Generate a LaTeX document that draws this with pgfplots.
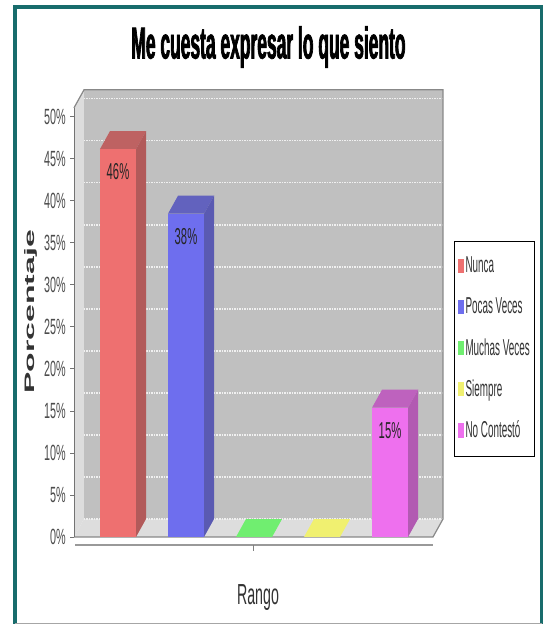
\documentclass[border=0pt]{standalone}
\usepackage{fontspec}
\usepackage{graphicx}
\usepackage{pgfplots}
\pgfplotsset{compat=1.18}
\setmainfont{Liberation Sans}[FakeStretch=0.49]
\newfontfamily\titlefont{Liberation Sans}[FakeStretch=0.39, FakeBold=1.5]
\newfontfamily\legfont{Liberation Sans}[FakeStretch=0.43]
\newfontfamily\plainfont{Liberation Sans}

\definecolor{frame}{RGB}{24,108,108}
\definecolor{wall}{RGB}{192,192,192}
\definecolor{floorc}{RGB}{221,221,221}
\definecolor{edge}{RGB}{136,136,136}
\definecolor{redF}{RGB}{238,112,112}
\definecolor{redT}{RGB}{190,98,98}
\definecolor{redS}{RGB}{178,90,90}
\definecolor{blueF}{RGB}{110,110,238}
\definecolor{blueT}{RGB}{98,98,190}
\definecolor{blueS}{RGB}{90,90,178}
\definecolor{greenF}{RGB}{112,238,112}
\definecolor{yellowF}{RGB}{240,240,112}
\definecolor{pinkF}{RGB}{238,112,238}
\definecolor{pinkT}{RGB}{190,98,190}
\definecolor{pinkS}{RGB}{178,90,178}

\pgfplotsset{
  swatch/.style={legend image code/.code={\fill[##1] (0pt,-6pt) rectangle (6pt,8pt);}},
  front/.style={ybar, bar width=36pt, bar shift=0pt, draw=none, swatch},
  lbl/.style={nodes near coords={\pgfmathprintnumber[fixed,precision=0,assume math mode=true]{\pgfplotspointmeta}\%},
    every node near coord/.append style={font=\fontsize{23}{23}\selectfont, text=black!85, inner sep=0pt, yshift=-31pt}},
}

\begin{document}
\begin{tikzpicture}
\useasboundingbox (0pt,0pt) rectangle (543pt,626pt);
\fill[white] (0pt,0pt) rectangle (543pt,626pt);
\draw[frame, line width=4pt] (15pt,2pt) -- (15pt,618.5pt) -- (541.5pt,618.5pt) -- (541.5pt,2pt);
\draw[black!35, line width=1pt] (15pt,2pt) -- (541.5pt,2pt);

\begin{axis}[
  at={(74pt,68pt)}, anchor=south west,
  scale only axis, width=369pt, height=469pt,
  xmin=0.353, xmax=5.779, ymin=-2.5, ymax=53.3,
  clip=false, no markers,
  axis line style={draw=none},
  xtick=\empty,
  ytick={0,5,...,50},
  yticklabels={0\%,5\%,10\%,15\%,20\%,25\%,30\%,35\%,40\%,45\%,50\%},
  ytick pos=left, tick align=outside, major tick length=4pt,
  tick style={draw=black!55, line width=0.8pt},
  yticklabel style={font=\fontsize{22}{22}\selectfont, text=black!70, inner sep=0pt, xshift=-4pt},
  title={\titlefont\bfseries\fontsize{44.7}{44.7}\selectfont Me cuesta expresar lo que siento},
  title style={at={(axis description cs:0.527,1.0768)}, anchor=center, inner sep=0pt},
  xlabel={\fontsize{29}{29}\selectfont Rango},
  xlabel style={at={(axis description cs:0.4986,-0.0853)}, anchor=center, inner sep=0pt, text=black!80},
  ylabel={\scalebox{1}[0.43]{\plainfont\bfseries\fontsize{32}{32}\selectfont Porcentaje}},
  ylabel style={at={(axis description cs:-0.1165,0.5245)}, anchor=center, inner sep=0pt, text=black!80},
  legend style={at={(axis description cs:1,0.6759)}, anchor=north west, xshift=11pt,
    draw=black, line width=1pt, fill=white, inner xsep=3pt, inner ysep=12pt, row sep=15.25pt,
    font=\legfont\fontsize{23}{23}\selectfont, text=black!80,
    nodes={inner sep=2pt, text height=17pt, text depth=5pt}, cells={anchor=west}},
  legend cell align=left,
]
% walls and floor
\addplot[fill=wall, draw=none, forget plot] coordinates {(0.5,2.14) (5.779,2.14) (5.779,53.2) (0.5,53.2)};
\addplot[fill=floorc, draw=none, forget plot] coordinates {(0.353,0) (0.5,2.14) (0.5,53.2) (0.353,51.06)};
\addplot[fill=floorc, draw=none, forget plot] coordinates {(0.353,0) (0.5,2.14) (5.779,2.14) (5.632,0)};
% grid on the back wall
\addplot[white!88!gray, line width=1.4pt, dash pattern=on 1.5pt off 1pt, unbounded coords=jump, forget plot] coordinates {
  (0.5,2.14) (5.779,2.14) (0.5,nan)
  (0.5,7.14) (5.779,7.14) (0.5,nan)
  (0.5,12.14) (5.779,12.14) (0.5,nan)
  (0.5,17.14) (5.779,17.14) (0.5,nan)
  (0.5,22.14) (5.779,22.14) (0.5,nan)
  (0.5,27.14) (5.779,27.14) (0.5,nan)
  (0.5,32.14) (5.779,32.14) (0.5,nan)
  (0.5,37.14) (5.779,37.14) (0.5,nan)
  (0.5,42.14) (5.779,42.14) (0.5,nan)
  (0.5,47.14) (5.779,47.14) (0.5,nan)
  (0.5,52.14) (5.779,52.14)
};
% outline
\addplot[edge, line width=1.2pt, forget plot] coordinates {(0.353,51.06) (0.5,53.2) (5.779,53.2) (5.779,2.14) (5.632,0) (0.353,0)};
\addplot[black!55, line width=1pt, forget plot] coordinates {(0.353,0) (0.353,51.06)};
\addplot[black!40, line width=2pt, forget plot] coordinates {(0.368,-0.95) (5.632,-0.95)};
\addplot[black!50, line width=0.8pt, forget plot] coordinates {(2.985,-0.95) (2.985,-1.7)};

% 3D tops and sides
\addplot[fill=redT, draw=none, forget plot] coordinates {(0.735,46.15) (0.882,48.29) (1.412,48.29) (1.265,46.15)};
\addplot[fill=redS, draw=none, forget plot] coordinates {(1.265,46.15) (1.412,48.29) (1.412,2.14) (1.265,0)};
\addplot[fill=blueT, draw=none, forget plot] coordinates {(1.735,38.46) (1.882,40.60) (2.412,40.60) (2.265,38.46)};
\addplot[fill=blueS, draw=none, forget plot] coordinates {(2.265,38.46) (2.412,40.60) (2.412,2.14) (2.265,0)};
\addplot[fill=greenF, draw=none, forget plot] coordinates {(2.735,0) (3.265,0) (3.412,2.14) (2.882,2.14)};
\addplot[fill=yellowF, draw=none, forget plot] coordinates {(3.735,0) (4.265,0) (4.412,2.14) (3.882,2.14)};
\addplot[fill=pinkT, draw=none, forget plot] coordinates {(4.735,15.38) (4.882,17.52) (5.412,17.52) (5.265,15.38)};
\addplot[fill=pinkS, draw=none, forget plot] coordinates {(5.265,15.38) (5.412,17.52) (5.412,2.14) (5.265,0)};

% front faces
\addplot[front, fill=redF, lbl] coordinates {(1,46.15)};
\addlegendentry{Nunca}
\addplot[front, fill=blueF, lbl] coordinates {(2,38.46)};
\addlegendentry{Pocas Veces}
\addplot[front, fill=greenF] coordinates {(3,0)};
\addlegendentry{Muchas Veces}
\addplot[front, fill=yellowF] coordinates {(4,0)};
\addlegendentry{Siempre}
\addplot[front, fill=pinkF, lbl] coordinates {(5,15.38)};
\addlegendentry{No Contestó}
\end{axis}
\end{tikzpicture}
\end{document}
